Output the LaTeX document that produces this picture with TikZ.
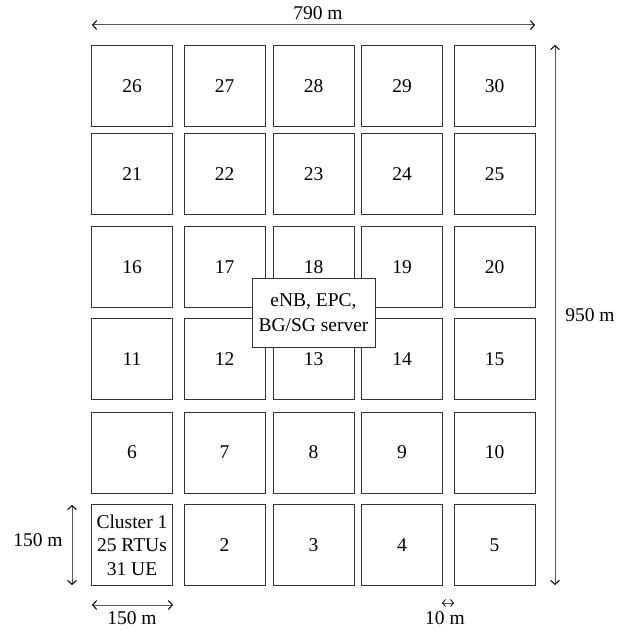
\documentclass[tikz,border=0pt]{standalone}
\usepackage{fontspec}
\setmainfont{Liberation Serif}
\usetikzlibrary{arrows.meta}
\begin{document}
\begin{tikzpicture}[x=1pt,y=-1pt,
  cell/.style={draw=black!80,line width=0.9pt,minimum width=81pt,minimum height=81pt,inner sep=0pt,align=center,font=\fontsize{19.5}{23.5}\selectfont},
  server/.style={draw=black!80,fill=white,line width=0.9pt,minimum width=123pt,minimum height=69pt,inner sep=0pt,align=center,font=\fontsize{19.5}{25}\selectfont},
  dim/.style={draw=black!65,line width=1pt,{Straight Barb[length=4pt,width=9pt,black]}-{Straight Barb[length=4pt,width=9pt,black]}},
  smalldim/.style={draw=black!65,line width=0.8pt,{Straight Barb[length=3pt,width=7pt,black]}-{Straight Barb[length=3pt,width=7pt,black]}},
  lbl/.style={inner sep=0pt,font=\fontsize{19.5}{23.5}\selectfont}]
\useasboundingbox (0,0) rectangle (638,631);
\def\colx{{132,224.5,313.5,402,494.5}}
\def\rowy{{545,452.5,359,267,174,86}}
\foreach \r in {0,...,5}{
  \foreach \c in {0,...,4}{
    \pgfmathtruncatemacro{\n}{\r*5+\c+1}
    \pgfmathsetmacro{\xx}{\colx[\c]}
    \pgfmathsetmacro{\yy}{\rowy[\r]}
    \ifnum\n=1
      \node[cell] (b\n) at (\xx,\yy) {Cluster 1\\25 RTUs\\31 UE};
    \else
      \node[cell] (b\n) at (\xx,\yy) {\n};
    \fi
  }
}
\node[server] (srv) at (313.5,312.5) {eNB, EPC,\\BG/SG server};
% dimension coordinates
\coordinate (tl) at (92,25);
\coordinate (tr) at (535,25);
\coordinate (rt) at (555,45);
\coordinate (rb) at (555,585);
\coordinate (lt) at (72,505);
\coordinate (lb) at (72,585);
\coordinate (bl) at (92,605);
\coordinate (br) at (173,605);
\coordinate (sl) at (442,603);
\coordinate (sr) at (454,603);
\draw[dim] (tl) -- (tr);
\draw[dim] (rt) -- (rb);
\draw[dim] (lt) -- (lb);
\draw[dim] (bl) -- (br);
\draw[smalldim] (sl) -- (sr);
\node[lbl] (l790) at (318,13) {790 m};
\node[lbl] (l950) at (590,315) {950 m};
\node[lbl] (l150a) at (38,540) {150 m};
\node[lbl] (l150b) at (132,618) {150 m};
\node[lbl] (l10) at (445,618) {10 m};
\end{tikzpicture}
\end{document}
